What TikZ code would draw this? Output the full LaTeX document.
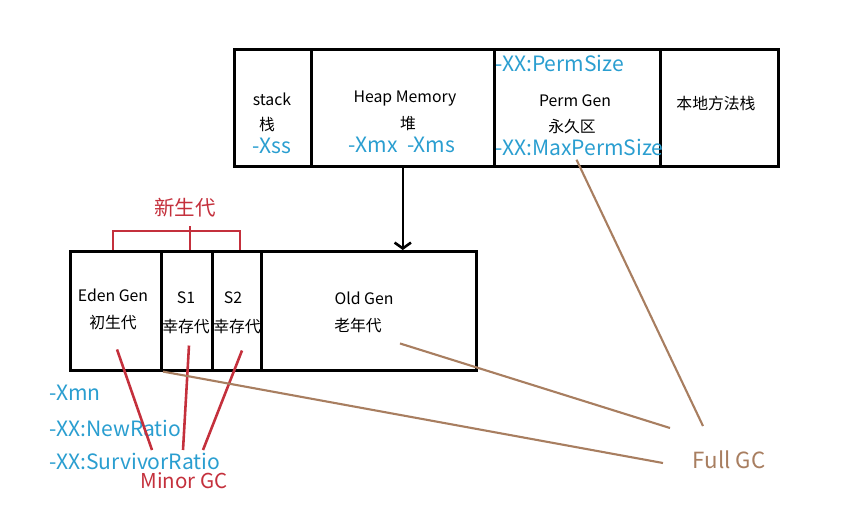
\documentclass[tikz,border=0pt]{standalone}
\usepackage{fontspec}
\setmainfont{Noto Sans CJK SC}
\usetikzlibrary{arrows.meta}

\definecolor{optblue}{RGB}{42,158,208}
\definecolor{gcred}{RGB}{196,48,60}
\definecolor{gcbrown}{RGB}{168,126,96}

\begin{document}
\begin{tikzpicture}[x=0.03cm,y=-0.03cm,
  cell/.style={draw,line width=2.2pt,inner sep=0pt,anchor=north west},
  lbl/.style={font=\fontsize{13.5}{16}\selectfont},
  opt/.style={text=optblue,inner sep=1pt,font=\fontsize{18}{21}\selectfont},
  minor/.style={draw=gcred,line width=2.2pt},
  full/.style={draw=gcbrown,line width=1.8pt}]
\useasboundingbox (0,0) rectangle (841,518);

% upper row
\node[cell,minimum width={77*0.03cm},minimum height={117*0.03cm}] (stack) at (233,48) {};
\node[cell,minimum width={183*0.03cm},minimum height={117*0.03cm}] (heap) at (310,48) {};
\node[cell,minimum width={166*0.03cm},minimum height={117*0.03cm}] (perm) at (493,48) {};
\node[cell,minimum width={118*0.03cm},minimum height={117*0.03cm}] (native) at (659,48) {};

\node[lbl] (stackname) at (272,99) {stack};
\node[lbl] (stackcn) at (267,124) {栈};
\node[opt] (xss) at (272,146) {-Xss};
\node[lbl] (heapname) at (405,99) {Heap Memory};
\node[lbl] (heapcn) at (408,124) {堆};
\node[opt] (xmx) at (402,145) {-Xmx\ \ -Xms};
\node[opt,anchor=west] (permsize) at (494,63) {-XX:PermSize};
\node[lbl] (permname) at (575,101) {Perm Gen};
\node[lbl] (permcn) at (572,127) {永久区};
\node[opt,anchor=west] (maxperm) at (494,147) {-XX:MaxPermSize};
\node[lbl] (nativecn) at (716,103) {本地方法栈};

% lower row
\node[cell,minimum width={91*0.03cm},minimum height={119*0.03cm}] (eden) at (69,250) {};
\node[cell,minimum width={51*0.03cm},minimum height={119*0.03cm}] (sone) at (160,250) {};
\node[cell,minimum width={49*0.03cm},minimum height={119*0.03cm}] (stwo) at (211,250) {};
\node[cell,minimum width={215*0.03cm},minimum height={119*0.03cm}] (old) at (260,250) {};

\node[lbl] (edenname) at (113,295) {Eden Gen};
\node[lbl] (edencn) at (113,322) {初生代};
\node[lbl] (sonename) at (186,298) {S1};
\node[lbl,inner sep=0pt] (sonecn) at (186,326) {幸存代};
\node[lbl] (stwoname) at (233,298) {S2};
\node[lbl,inner sep=0pt] (stwocn) at (237,326) {幸存代};
\node[lbl] (oldname) at (364,298) {Old Gen};
\node[lbl] (oldcn) at (358,325) {老年代};

\draw[line width=2.2pt,-{Straight Barb[length=5pt,width=14pt]}] (heap.south) -- (heap.south |- old.north);

% young generation bracket
\node[text=gcred,font=\fontsize{17.5}{20}\selectfont] (young) at (185,208) {新生代};
\draw[minor] (eden.north) ++(-3,0) coordinate (ya) -- ++(0,-19) -| ([xshift={3*0.03cm}]stwo.north);
\draw[minor] ([xshift={3*0.03cm}]sone.north) -- ++(0,-24);

% options
\node[opt,anchor=west] (xmn) at (48,393) {-Xmn};
\node[opt,anchor=west] (newratio) at (48,428) {-XX:NewRatio};
\node[opt,anchor=west] (survratio) at (48,461) {-XX:SurvivorRatio};

% minor gc
\node[text=gcred,inner sep=0pt,font=\fontsize{17.5}{20}\selectfont] (minorgc) at (184,481) {Minor GC};
\coordinate (ma) at (152,450);
\coordinate (mb) at (183,450);
\coordinate (mc) at (203,450);
\draw[minor] ([shift={(4,16)}]edencn.south) -- (ma);
\draw[minor] ([shift={(3,12)}]sonecn.south) -- (mb);
\draw[minor] ([shift={(5,17)}]stwocn.south) -- (mc);

% full gc
\node[text=gcbrown,font=\fontsize{19}{22}\selectfont] (fullgc) at (729,460) {Full GC};
\coordinate (fa) at (663,463);
\coordinate (fb) at (670,428);
\coordinate (fc) at (703,426);
\draw[full] ([xshift={3*0.03cm}]sone.south west) -- (fa);
\draw[full] ([shift={(42,7)}]oldcn.south) -- (fb);
\draw[full] ([shift={(-3,3)}]maxperm.south) -- (fc);
\end{tikzpicture}
\end{document}
